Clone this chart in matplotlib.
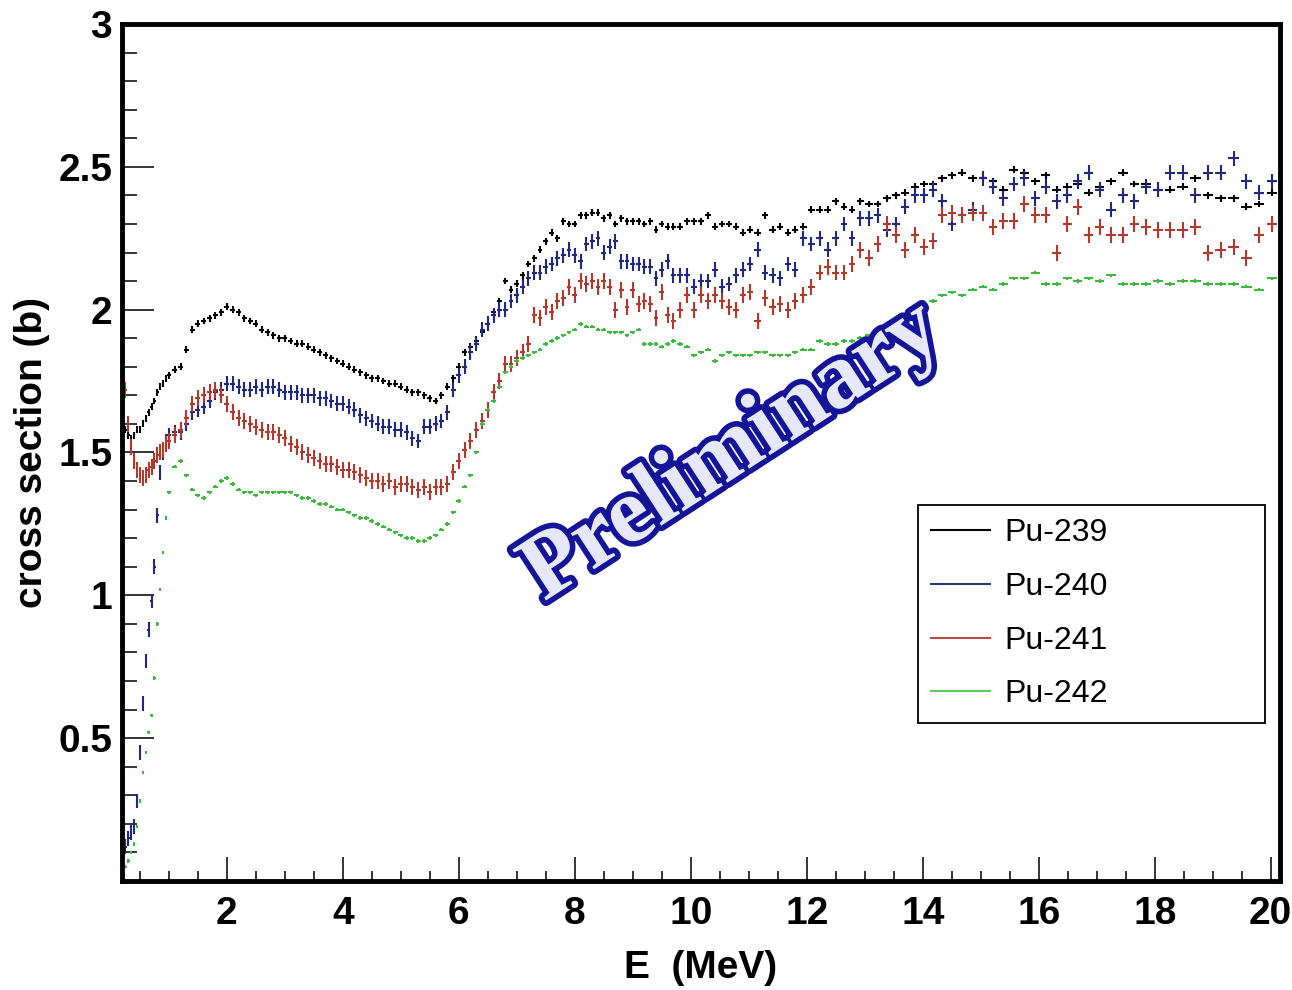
import numpy as np
import matplotlib
matplotlib.use("Agg")
import matplotlib.pyplot as plt
from matplotlib.lines import Line2D
from matplotlib.ticker import MultipleLocator, FuncFormatter
import matplotlib.patheffects as pe

plt.rcParams['font.family'] = ['Liberation Sans', 'DejaVu Sans']

# bin centres (MeV)
energy = [0.20, 0.25, 0.30, 0.35, 0.40, 0.45, 0.50, 0.55, 0.60, 0.65, 0.70, 0.75, 0.80, 0.85, 0.90, 0.95, 1.00,
          1.1, 1.2, 1.3, 1.4, 1.5, 1.6, 1.7, 1.8, 1.9, 2.0, 2.1, 2.2, 2.3, 2.4, 2.5, 2.6, 2.7, 2.8, 2.9, 3.0,
          3.1, 3.2, 3.3, 3.4, 3.5, 3.6, 3.7, 3.8, 3.9, 4.0, 4.1, 4.2, 4.3, 4.4, 4.5, 4.6, 4.7, 4.8, 4.9, 5.0,
          5.1, 5.2, 5.3, 5.4, 5.5, 5.6, 5.7, 5.8, 5.9, 6.0,
          6.1, 6.2, 6.3, 6.4, 6.5, 6.6, 6.7, 6.8, 6.9, 7.0, 7.1, 7.2, 7.3, 7.4, 7.5, 7.6, 7.7, 7.8, 7.9, 8.0,
          8.1, 8.2, 8.3, 8.4, 8.5, 8.6, 8.7, 8.8, 8.9, 9.0, 9.1, 9.2, 9.3, 9.4, 9.5, 9.6,
          9.70, 9.82, 9.94, 10.06, 10.18, 10.30, 10.42, 10.54, 10.66, 10.78, 10.90, 11.02, 11.15, 11.28,
          11.41, 11.54, 11.67, 11.80, 11.94, 12.08, 12.22, 12.36, 12.50, 12.64, 12.78, 12.92, 13.07, 13.22,
          13.38, 13.54, 13.70, 13.86, 14.02, 14.18, 14.34, 14.51,
          14.68, 14.86, 15.04, 15.21, 15.39, 15.57, 15.75, 15.94, 16.12, 16.31, 16.49, 16.67, 16.86, 17.05,
          17.25, 17.45, 17.65, 17.85, 18.05, 18.26, 18.48, 18.70, 18.92, 19.14, 19.36, 19.58, 19.80, 20.02]

pu239 = [1.60, 1.58, 1.56, 1.55, 1.56, 1.58, 1.58, 1.60, 1.62, 1.64, 1.66, 1.68, 1.71, 1.73, 1.74, 1.76, 1.77,
         1.79, 1.80, 1.86, 1.93, 1.95, 1.96, 1.97, 1.98, 1.99, 2.01, 2.00, 1.99, 1.97, 1.96, 1.95, 1.93, 1.92, 1.91, 1.90, 1.90,
         1.89, 1.88, 1.88, 1.87, 1.86, 1.85, 1.84, 1.83, 1.82, 1.81, 1.80, 1.79, 1.78, 1.77, 1.76, 1.76, 1.75, 1.74, 1.74, 1.73,
         1.72, 1.71, 1.71, 1.70, 1.69, 1.68, 1.70, 1.73, 1.76, 1.80,
         1.85, 1.87, 1.89, 1.92, 1.95, 1.99, 2.03, 2.10, 2.07, 2.09, 2.12, 2.16, 2.18, 2.21, 2.24, 2.27, 2.25, 2.31, 2.30, 2.30,
         2.33, 2.33, 2.34, 2.34, 2.32, 2.33, 2.30, 2.32, 2.31, 2.31, 2.31, 2.30, 2.31, 2.28, 2.30, 2.29,
         2.29, 2.29, 2.31, 2.31, 2.31, 2.33, 2.29, 2.30, 2.30, 2.29, 2.27, 2.28, 2.27, 2.33,
         2.28, 2.29, 2.27, 2.28, 2.29, 2.35, 2.35, 2.35, 2.38, 2.36, 2.35, 2.38, 2.37, 2.37,
         2.39, 2.40, 2.41, 2.43, 2.44, 2.44, 2.46, 2.47,
         2.48, 2.46, 2.46, 2.45, 2.42, 2.49, 2.48, 2.45, 2.47, 2.42, 2.43, 2.44, 2.41, 2.43,
         2.45, 2.48, 2.44, 2.44, 2.42, 2.42, 2.43, 2.46, 2.40, 2.39, 2.39, 2.36, 2.37, 2.41]

pu240 = [0.10, 0.12, 0.15, 0.17, 0.19, 0.28, 0.45, 0.62, 0.77, 0.88, 0.98, 1.10, 1.28, 1.43, 1.50, 1.54, 1.56,
         1.57, 1.57, 1.60, 1.64, 1.65, 1.66, 1.68, 1.71, 1.72, 1.74, 1.74, 1.73, 1.72, 1.72, 1.73, 1.72, 1.73, 1.73, 1.72, 1.71,
         1.71, 1.71, 1.70, 1.70, 1.70, 1.69, 1.69, 1.68, 1.67, 1.67, 1.66, 1.65, 1.63, 1.62, 1.61, 1.60, 1.59, 1.59, 1.58, 1.58,
         1.57, 1.55, 1.54, 1.59, 1.59, 1.60, 1.61, 1.64, 1.72, 1.77,
         1.80, 1.85, 1.88, 1.93, 1.95, 1.98, 2.00, 2.00, 2.03, 2.05, 2.08, 2.11, 2.13, 2.13, 2.15, 2.16, 2.18, 2.19, 2.21, 2.19,
         2.17, 2.23, 2.24, 2.25, 2.20, 2.22, 2.24, 2.17, 2.17, 2.16, 2.16, 2.15, 2.15, 2.11, 2.14, 2.17,
         2.12, 2.12, 2.12, 2.08, 2.10, 2.10, 2.14, 2.08, 2.09, 2.12, 2.14, 2.16, 2.21, 2.13,
         2.12, 2.11, 2.16, 2.14, 2.25, 2.23, 2.25, 2.21, 2.25, 2.30, 2.25, 2.32, 2.32, 2.33,
         2.28, 2.30, 2.36, 2.40, 2.40, 2.42, 2.38, 2.30,
         2.33, 2.35, 2.46, 2.43, 2.39, 2.44, 2.46, 2.39, 2.43, 2.38, 2.40, 2.45, 2.48, 2.42,
         2.35, 2.40, 2.38, 2.43, 2.42, 2.48, 2.48, 2.40, 2.48, 2.48, 2.53, 2.45, 2.41, 2.45]

pu241 = [1.84, 1.72, 1.60, 1.52, 1.47, 1.44, 1.42, 1.41, 1.42, 1.44, 1.45, 1.47, 1.49, 1.50, 1.51, 1.53, 1.54,
         1.56, 1.58, 1.62, 1.67, 1.69, 1.70, 1.71, 1.72, 1.70, 1.67, 1.64, 1.62, 1.61, 1.60, 1.59, 1.58, 1.57, 1.57, 1.56, 1.55,
         1.53, 1.52, 1.50, 1.49, 1.48, 1.47, 1.46, 1.46, 1.45, 1.44, 1.44, 1.43, 1.42, 1.41, 1.40, 1.40, 1.39, 1.40, 1.38, 1.39,
         1.39, 1.38, 1.37, 1.38, 1.36, 1.38, 1.38, 1.39, 1.43, 1.47,
         1.51, 1.54, 1.58, 1.61, 1.65, 1.71, 1.75, 1.81, 1.81, 1.83, 1.85, 1.88, 1.98, 1.97, 2.01, 1.99, 2.03, 2.04, 2.08, 2.05,
         2.10, 2.09, 2.10, 2.08, 2.10, 2.08, 2.00, 2.07, 2.01, 2.07, 2.02, 2.03, 2.02, 1.97, 2.06, 1.98,
         1.96, 2.00, 2.05, 2.00, 2.05, 2.03, 2.05, 2.03, 2.01, 2.00, 2.05, 2.06, 1.96, 2.04,
         2.01, 2.02, 2.00, 2.03, 2.05, 2.08, 2.13, 2.15, 2.13, 2.13, 2.16, 2.21, 2.18, 2.23,
         2.30, 2.26, 2.21, 2.26, 2.22, 2.24, 2.33, 2.34,
         2.33, 2.34, 2.34, 2.29, 2.31, 2.31, 2.37, 2.33, 2.33, 2.20, 2.30, 2.36, 2.26, 2.29,
         2.26, 2.26, 2.30, 2.29, 2.28, 2.28, 2.28, 2.29, 2.20, 2.21, 2.22, 2.18, 2.26, 2.30]

pu242 = [0.02, 0.05, 0.07, 0.10, 0.13, 0.19, 0.28, 0.38, 0.45, 0.52, 0.58, 0.71, 0.90, 1.02, 1.15, 1.27, 1.36,
         1.45, 1.47, 1.42, 1.37, 1.35, 1.34, 1.36, 1.38, 1.40, 1.41, 1.39, 1.37, 1.36, 1.36, 1.35, 1.36, 1.36, 1.36, 1.36, 1.36,
         1.36, 1.35, 1.34, 1.34, 1.33, 1.32, 1.32, 1.31, 1.30, 1.30, 1.29, 1.28, 1.27, 1.27, 1.26, 1.25, 1.24, 1.23, 1.22, 1.21,
         1.20, 1.20, 1.19, 1.19, 1.20, 1.21, 1.23, 1.25, 1.29, 1.33,
         1.38, 1.42, 1.50, 1.60, 1.65, 1.68, 1.73, 1.78, 1.80, 1.82, 1.83, 1.84, 1.85, 1.86, 1.88, 1.89, 1.90, 1.91, 1.92, 1.93,
         1.95, 1.94, 1.94, 1.93, 1.93, 1.92, 1.92, 1.92, 1.91, 1.92, 1.93, 1.88, 1.88, 1.88, 1.87, 1.88,
         1.89, 1.88, 1.87, 1.84, 1.85, 1.86, 1.82, 1.84, 1.85, 1.84, 1.84, 1.84, 1.85, 1.85,
         1.84, 1.84, 1.84, 1.85, 1.86, 1.86, 1.89, 1.88, 1.88, 1.89, 1.89, 1.90, 1.91, 1.92,
         1.94, 1.96, 1.98, 1.99, 2.01, 2.03, 2.05, 2.06,
         2.05, 2.07, 2.08, 2.07, 2.09, 2.11, 2.11, 2.13, 2.09, 2.09, 2.11, 2.10, 2.11, 2.10,
         2.12, 2.09, 2.09, 2.09, 2.10, 2.09, 2.10, 2.10, 2.09, 2.09, 2.09, 2.08, 2.07, 2.11]

labels = ["Pu-239", "Pu-240", "Pu-241", "Pu-242"]
sigma = [0.012, 0.026, 0.028, 0.006]   # rough y uncertainty per isotope

colors = ["#000000", "#1f2a7f", "#b0392e", "#3cb83c"]
legend_colors = ["#000000", "#2a3a78", "#b05048", "#60c860"]

fig = plt.figure(figsize=(12.92, 9.9), dpi=100)
ax = fig.add_axes([0.0944, 0.1101, 0.8963, 0.8657])

E = np.array(energy)
half = 0.42 * np.gradient(E)

for vals, col, err in zip([pu239, pu240, pu241, pu242], colors, sigma):
    ax.errorbar(E, vals, xerr=half, yerr=err, fmt='none', ecolor=col,
                elinewidth=1.5, capsize=0)

ax.set_xlim(0.19, 20.16)
ax.set_ylim(0, 3)

ax.xaxis.set_major_locator(MultipleLocator(2))
ax.xaxis.set_minor_locator(MultipleLocator(0.5))
ax.yaxis.set_major_locator(MultipleLocator(0.5))
ax.yaxis.set_minor_locator(MultipleLocator(0.1))
ax.yaxis.set_major_formatter(FuncFormatter(lambda v, p: "" if abs(v) < 1e-9 else "%g" % v))
ax.xaxis.set_major_formatter(FuncFormatter(lambda v, p: "%g" % v))

ax.tick_params(axis='both', which='both', direction='in', top=False, right=False,
               width=1.1, labelsize=28)
ax.tick_params(axis='y', which='major', length=23, pad=7)
ax.tick_params(axis='y', which='minor', length=11)
ax.tick_params(axis='x', which='major', length=17, pad=11)
ax.tick_params(axis='x', which='minor', length=7.5)
for lab in ax.get_xticklabels() + ax.get_yticklabels():
    lab.set_fontweight('bold')

for s in ax.spines.values():
    s.set_linewidth(3.5)

ax.set_xlabel("E  (MeV)", fontsize=28, fontweight='bold')
ax.set_ylabel("cross section (b)", fontsize=28, fontweight='bold')
ax.xaxis.set_label_coords(0.5, -0.08)
ax.yaxis.set_label_coords(-0.062, 0.5)

handles = [Line2D([], [], color=c, lw=1.5) for c in legend_colors]
leg = ax.legend(handles, labels, loc='upper left',
                bbox_to_anchor=(0.687, 0.4387, 0.300, 0.0), mode='expand',
                borderaxespad=0, fancybox=False, edgecolor='black', framealpha=1,
                fontsize=23, handlelength=1.85, handletextpad=0.45,
                labelspacing=0.74, borderpad=0.42)
leg.get_frame().set_linewidth(1.3)

ax.text(10.72, 1.50, "Preliminary", rotation=33, ha='center', va='center',
        fontsize=67, family='Liberation Serif', fontweight='bold', color='#e6e8f8',
        path_effects=[pe.withStroke(linewidth=8, foreground='#14149a')], zorder=5)

fig.savefig("out.png", dpi=100)
